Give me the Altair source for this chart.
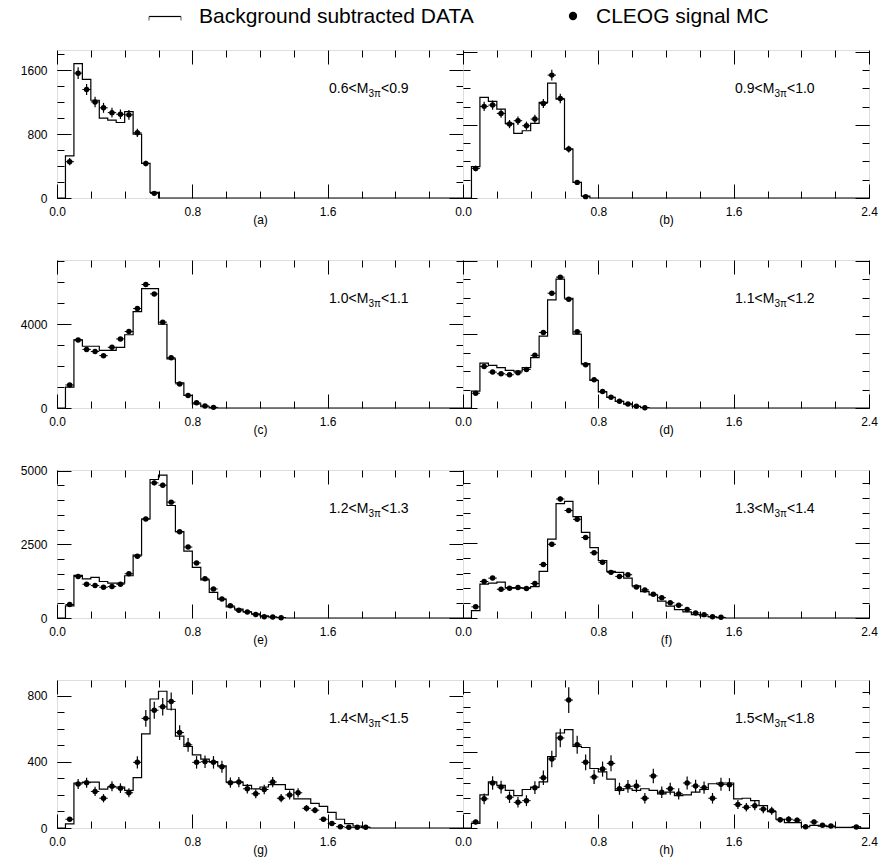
import altair as alt
import pandas as pd

# ---------------- data ----------------
panel_letters = ["a", "b", "c", "d", "e", "f", "g", "h"]
mass_lo = ["0.6", "0.9", "1.0", "1.1", "1.2", "1.3", "1.4", "1.5"]
mass_hi = ["0.9", "1.0", "1.1", "1.2", "1.3", "1.4", "1.5", "1.8"]

x_major = [0.0, 0.8, 1.6, 2.4]
x_minor = [0.2, 0.4, 0.6, 1.0, 1.2, 1.4, 1.8, 2.0, 2.2]

# Background subtracted DATA: bin contents, 0.05 wide bins, first listed bin = 0.05-0.10
data_a = [529, 1683, 1487, 1225, 1000, 975, 946, 1083, 800, 433, 71]
data_b = [343, 1101, 1057, 973, 817, 707, 736, 817, 1046, 1258, 1083, 536, 171, 22]
data_c = [1000, 3250, 2950, 2950, 2750, 2750, 2900, 3500, 4600, 5700, 5700, 4000,
          2350, 1200, 600, 200, 60, 10]
data_d = [912, 2443, 2315, 2188, 2042, 2005, 2188, 2735, 3901, 5870, 7000, 5961,
          4011, 2406, 1495, 880, 580, 360, 210, 90, 20]
data_e = [413, 1445, 1330, 1376, 1239, 1181, 1181, 1434, 2133, 3361, 4703, 4852,
          3820, 2936, 2271, 1720, 1296, 872, 642, 378, 298, 206, 138, 69, 34, 11]
data_f = [247, 1124, 1158, 1191, 1012, 989, 1000, 1045, 1551, 2619, 3799, 3878,
          3372, 2844, 2338, 1911, 1551, 1517, 1326, 1068, 877, 764, 562, 393, 281,
          202, 112, 67, 34, 11]
data_g = [25, 272, 278, 278, 235, 248, 248, 228, 305, 569, 780, 827, 718, 555, 493,
          442, 417, 401, 376, 278, 278, 258, 237, 248, 262, 262, 233, 176, 176, 149,
          131, 94, 53, 27, 12, 4]
data_h = [31, 220, 305, 282, 249, 215, 255, 271, 305, 473, 629, 652, 540, 533, 394,
          372, 323, 249, 260, 249, 260, 249, 226, 237, 215, 220, 237, 255, 293, 298,
          298, 193, 197, 181, 148, 108, 58, 36, 36, 9, 18, 13, 9, 4, 4, 7]

# CLEOG signal MC: points at bin centres starting 0.075, with errors
mc_a = [455, 1565, 1360, 1204, 1130, 1070, 1050, 1042, 817, 433, 58]
err_a = [45, 75, 70, 65, 62, 60, 60, 60, 52, 35, 12]
mc_b = [324, 1003, 1017, 926, 809, 846, 791, 864, 1035, 1345, 1090, 536, 171, 15]
err_b = [30, 50, 50, 48, 45, 46, 45, 47, 50, 58, 52, 37, 20, 6]
mc_c = [1100, 3250, 2800, 2700, 2500, 2900, 3300, 3650, 4750, 5900, 5450, 4100,
        2400, 1150, 600, 250, 100, 30]
err_c = [40, 70, 65, 65, 60, 65, 70, 75, 85, 95, 90, 80, 60, 42, 30, 20, 12, 6]
mc_d = [802, 2260, 1950, 1860, 1805, 1914, 2096, 2862, 4102, 6235, 7110, 5906,
        4138, 2352, 1531, 893, 583, 365, 219, 91, 18]
err_d = [35, 60, 55, 55, 52, 55, 58, 68, 80, 100, 105, 95, 80, 60, 48, 37, 30, 24,
         18, 12, 5]
mc_e = [459, 1411, 1147, 1101, 1044, 1067, 1147, 1503, 2099, 3361, 4588, 4508,
        3934, 2925, 2409, 1870, 1330, 986, 642, 413, 264, 206, 115, 46, 34, 11]
err_e = [25, 45, 40, 40, 38, 38, 40, 46, 55, 68, 80, 80, 73, 64, 58, 50, 43, 37,
         30, 24, 19, 17, 13, 8, 7, 4]
mc_f = [371, 1214, 1326, 955, 989, 1012, 978, 1146, 1776, 2450, 3956, 3574, 3282,
        2675, 2169, 1855, 1517, 1383, 1439, 1034, 933, 787, 674, 506, 427, 281,
        169, 112, 45, 22]
err_f = [25, 45, 47, 40, 41, 41, 40, 44, 55, 65, 82, 78, 75, 68, 60, 56, 50, 48,
         49, 42, 40, 36, 34, 29, 27, 22, 17, 14, 9, 6]
mc_g = [53, 266, 274, 221, 180, 252, 241, 213, 397, 663, 712, 733, 765, 577, 503,
        397, 401, 397, 370, 274, 278, 237, 207, 233, 278, 180, 200, 213, 119, 108,
        53, 27, 8, 4, 4, 4]
err_g = [12, 30, 30, 28, 25, 30, 29, 27, 37, 50, 52, 53, 55, 45, 42, 38, 38, 38,
         36, 31, 31, 29, 27, 29, 31, 25, 27, 28, 20, 19, 13, 9, 5, 3, 3, 3]
mc_h = [40, 193, 298, 271, 204, 170, 181, 267, 332, 457, 596, 847, 551, 435, 338,
        390, 428, 260, 276, 278, 197, 345, 237, 260, 226, 298, 278, 267, 197, 289,
        287, 155, 137, 148, 125, 114, 54, 58, 52, 9, 40, 18, 13, 0, 0, 7]
err_h = [15, 35, 45, 42, 38, 35, 36, 42, 48, 55, 62, 85, 60, 52, 47, 50, 53, 40,
         42, 42, 35, 48, 38, 40, 37, 43, 42, 41, 35, 43, 43, 30, 28, 30, 27, 26,
         18, 19, 18, 7, 15, 10, 8, 0, 0, 6]

hist_data = [data_a, data_b, data_c, data_d, data_e, data_f, data_g, data_h]
mc_data = [mc_a, mc_b, mc_c, mc_d, mc_e, mc_f, mc_g, mc_h]
mc_err = [err_a, err_b, err_c, err_d, err_e, err_f, err_g, err_h]

y_max = [1855, 1620, 7070, 8040, 5025, 4920, 895, 980]
y_major = [[0, 800, 1600], [0, 800, 1600], [0, 4000], [0, 4000, 8000],
           [0, 2500, 5000], [0, 2500], [0, 400, 800], [0, 500]]
y_minor_step = [200, 200, 1000, 1000, 500, 500, 100, 100]

BIN = 0.05
NBINS = 48
X_HI = 2.4

PW, PH = 406, 148
FONT = "Liberation Sans"


def hist_frame(vals):
    contents = [0.0] + [float(v) for v in vals]
    contents += [0.0] * (NBINS - len(contents))
    edges = [i * BIN for i in range(NBINS)] + [X_HI]
    return pd.DataFrame({"x": edges, "h": contents + [0.0]})


def mc_frame(vals, errs):
    rows = []
    for i, (v, e) in enumerate(zip(vals, errs)):
        if v <= 0:
            continue
        c = BIN * (i + 1) + BIN / 2
        rows.append({"c": c, "xl": c - BIN / 2, "xr": c + BIN / 2,
                     "v": v, "lo": max(v - e, 0), "hi": v + e})
    return pd.DataFrame(rows)


def tick_axis(orient, values, length, labels=False, fmt=None, title=None,
              pad=8):
    kw = dict(orient=orient, values=values, offset=-length, tickSize=length,
              domain=False, grid=False, ticks=True, tickColor="black",
              tickWidth=1, labels=labels, title=title)
    if labels:
        kw.update(labelFontSize=12, labelColor="black", labelFont=FONT,
                  labelPadding=pad, labelFlush=False, labelOverlap=False,
                  format=fmt)
    if title:
        kw.update(titleFontSize=12, titleFontWeight="normal", titleColor="black",
                  titleFont=FONT, titlePadding=-3)
    return alt.Axis(**kw)


def panel(k):
    left = (k % 2 == 0)
    xs = alt.Scale(domain=[0, X_HI], nice=False, zero=False)
    ys = alt.Scale(domain=[0, y_max[k]], nice=False, zero=False)
    y_min_vals = list(range(0, int(y_max[k]) + 1, y_minor_step[k]))
    x_lab_vals = x_major[:-1] if left else x_major

    ax_xb = tick_axis("bottom", x_lab_vals, 14, labels=True, fmt=".1f",
                      title=f"({panel_letters[k]})", pad=8)
    ax_xb_min = tick_axis("bottom", x_minor, 7)
    ax_xt = tick_axis("top", x_major, 14)
    ax_xt_min = tick_axis("top", x_minor, 7)
    ax_yl = tick_axis("left", y_major[k], 14, labels=left, fmt="d", pad=10)
    ax_yl_min = tick_axis("left", y_min_vals, 7)
    ax_yr = tick_axis("right", y_major[k], 14)
    ax_yr_min = tick_axis("right", y_min_vals, 7)

    hdf = hist_frame(hist_data[k])
    pdf = mc_frame(mc_data[k], mc_err[k])

    hist = alt.Chart(hdf).mark_line(
        interpolate="step-after", color="black", strokeWidth=1.2
    ).encode(
        x=alt.X("x:Q", scale=xs, axis=ax_xb),
        y=alt.Y("h:Q", scale=ys, axis=ax_yl),
    )
    ev = alt.Chart(pdf).mark_rule(color="black", strokeWidth=1.2, clip=True).encode(
        x=alt.X("c:Q", scale=xs, axis=ax_xb_min),
        y=alt.Y("lo:Q", scale=ys, axis=ax_yl_min),
        y2="hi:Q",
    )
    eh = alt.Chart(pdf).mark_rule(color="black", strokeWidth=1.0, clip=True).encode(
        x=alt.X("xl:Q", scale=xs, axis=ax_xt),
        x2="xr:Q",
        y=alt.Y("v:Q", scale=ys, axis=ax_yr),
    )
    pts = alt.Chart(pdf).mark_point(
        shape="circle", filled=True, size=30, color="black", opacity=1
    ).encode(
        x=alt.X("c:Q", scale=xs, axis=ax_xt_min),
        y=alt.Y("v:Q", scale=ys, axis=ax_yr_min),
    )

    one = pd.DataFrame({"k": [k]})
    tx = 272
    t1 = alt.Chart(one).mark_text(
        align="left", baseline="alphabetic", fontSize=14, color="black", font=FONT
    ).encode(x=alt.value(tx), y=alt.value(43), text=alt.value(f"{mass_lo[k]}<M"))
    t2 = alt.Chart(one).mark_text(
        align="left", baseline="alphabetic", fontSize=10, color="black", font=FONT
    ).encode(x=alt.value(tx + 39.5), y=alt.value(47), text=alt.value("3π"))
    t3 = alt.Chart(one).mark_text(
        align="left", baseline="alphabetic", fontSize=14, color="black", font=FONT
    ).encode(x=alt.value(tx + 52), y=alt.value(43), text=alt.value(f"<{mass_hi[k]}"))

    return alt.layer(hist, ev, eh, pts, t1, t2, t3).resolve_axis(
        x="independent", y="independent"
    ).properties(width=PW, height=PH)


# ---------------- legend band ----------------
lg = pd.DataFrame({"k": [0]})
leg_top = alt.Chart(lg).mark_rule(color="black", strokeWidth=1.2).encode(
    x=alt.value(92), x2=alt.value(124), y=alt.value(15.5))
leg_l = alt.Chart(lg).mark_rule(color="#555555", strokeWidth=1).encode(
    x=alt.value(92), y=alt.value(15.5), y2=alt.value(19.5))
leg_r = alt.Chart(lg).mark_rule(color="#555555", strokeWidth=1).encode(
    x=alt.value(124), y=alt.value(15.5), y2=alt.value(19.5))
leg_t1 = alt.Chart(lg).mark_text(
    align="left", baseline="alphabetic", fontSize=21, color="black", font=FONT
).encode(x=alt.value(142), y=alt.value(22), text=alt.value("Background subtracted DATA"))
leg_dot = alt.Chart(lg).mark_point(
    shape="circle", filled=True, size=70, color="black", opacity=1
).encode(x=alt.value(516), y=alt.value(15))
leg_t2 = alt.Chart(lg).mark_text(
    align="left", baseline="alphabetic", fontSize=21, color="black", font=FONT
).encode(x=alt.value(539), y=alt.value(22), text=alt.value("CLEOG signal MC"))

legend = alt.layer(leg_top, leg_l, leg_r, leg_t1, leg_dot, leg_t2).properties(
    width=2 * PW, height=35, view=alt.ViewBackground(stroke="transparent")
)

grid = alt.concat(*[panel(k) for k in range(8)], columns=2,
                  spacing={"row": 62, "column": 0}, bounds="flush")

chart = alt.vconcat(legend, grid, spacing=12).properties(
    padding={"left": 19, "top": 0, "right": 5, "bottom": 5},
    background="white",
).configure_view(
    stroke="black", strokeWidth=1.5
).configure(font=FONT)

chart.save("out.html", embed_options={"renderer": "svg", "actions": False})
